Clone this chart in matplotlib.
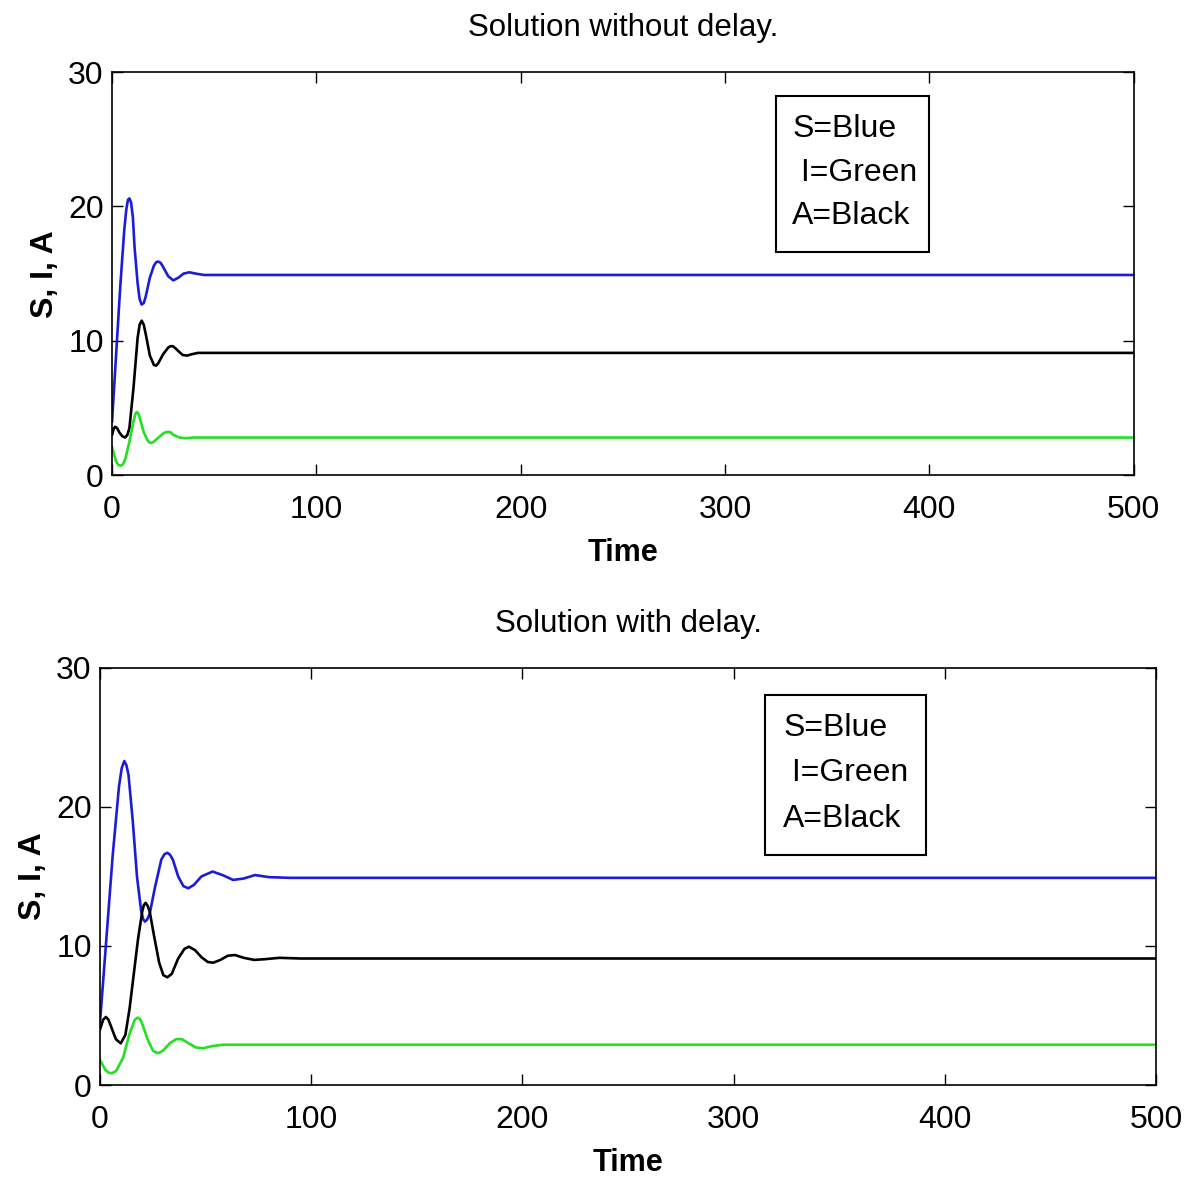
import matplotlib
matplotlib.use("Agg")
import matplotlib.pyplot as plt
from matplotlib.patches import Rectangle

plt.rcParams['font.family'] = ['Liberation Sans', 'DejaVu Sans']

# ---- Solution without delay ----
t1_S = [0, 2, 4, 6, 7, 7.8, 8.5, 9.3, 10.2, 11, 12.5, 13.5, 14.5, 15.5, 16.5, 18.5, 20.5, 21.6, 22.6, 23.8, 25, 27.5, 30, 32.5, 35, 37.8, 41, 45, 50, 500]
S1 = [4.0, 9.0, 14.0, 18.3, 19.8, 20.5, 20.6, 20.3, 19.2, 17.0, 14.3, 13.1, 12.7, 12.8, 13.3, 14.7, 15.6, 15.85, 15.9, 15.8, 15.5, 14.8, 14.5, 14.7, 15.0, 15.1, 15.0, 14.9, 14.9, 14.9]
t1_I = [0, 2, 3.2, 4.2, 5.3, 6.5, 8.5, 10.5, 11.3, 12, 12.8, 13.5, 15.5, 17.5, 18.5, 19.4, 20.5, 22, 25, 26.5, 27.5, 28.5, 30, 33, 36, 40, 500]
I1 = [2.1, 1.0, 0.75, 0.7, 0.8, 1.2, 2.5, 4.0, 4.5, 4.7, 4.6, 4.3, 3.2, 2.55, 2.42, 2.4, 2.5, 2.7, 3.1, 3.2, 3.22, 3.2, 3.0, 2.8, 2.75, 2.8, 2.8]
t1_A = [0, 0.8, 1.5, 2.5, 3.5, 5, 6.4, 7.5, 8.5, 10.5, 12.5, 13.5, 14.5, 15.5, 16.5, 18.5, 20.5, 21.5, 22.5, 25, 27.5, 28.6, 29.7, 31, 32, 34.5, 36.7, 39, 42, 500]
A1 = [3.0, 3.45, 3.6, 3.5, 3.2, 2.9, 2.8, 3.0, 3.5, 6.5, 10.2, 11.2, 11.5, 11.2, 10.5, 8.9, 8.2, 8.15, 8.3, 9.0, 9.5, 9.6, 9.6, 9.45, 9.3, 8.95, 8.9, 9.0, 9.1, 9.1]

# ---- Solution with delay ----
t2_S = [0, 3, 6, 9, 10.3, 11.5, 12.5, 13.5, 15.5, 17.5, 19.5, 20.5, 21.3, 22.3, 23.5, 26, 29, 30.5, 31.9, 33.2, 34.5, 37, 39.5, 41.8, 44.5, 48, 53.3, 58, 63, 68, 73.4, 80, 90, 500]
S2 = [4.5, 10.5, 16.5, 21.5, 22.8, 23.3, 23.0, 22.3, 19.0, 15.0, 12.5, 11.9, 11.75, 11.9, 12.3, 14.2, 16.2, 16.6, 16.7, 16.55, 16.2, 15.0, 14.3, 14.15, 14.4, 15.0, 15.35, 15.1, 14.75, 14.85, 15.1, 14.95, 14.9, 14.9]
t2_I = [0, 2.5, 4, 5.5, 7, 8, 11, 14, 16.5, 17.8, 19, 20, 22.5, 25, 26.3, 27.6, 29, 30, 33, 36, 38.7, 42, 45.5, 48.9, 53, 58, 65, 500]
I2 = [1.8, 1.1, 0.9, 0.85, 0.95, 1.1, 2.0, 3.7, 4.7, 4.85, 4.75, 4.4, 3.3, 2.5, 2.35, 2.3, 2.4, 2.5, 3.0, 3.3, 3.3, 3.0, 2.7, 2.65, 2.8, 2.9, 2.9, 2.9]
t2_A = [0, 1.5, 2.8, 4, 5, 7.5, 9.8, 12, 14, 16, 18, 20, 20.8, 21.6, 22.5, 23.5, 25.5, 28, 30, 31.9, 34, 37, 40, 42.1, 45, 48, 51, 53.6, 57, 60.5, 63.9, 68, 73, 78, 85, 95, 500]
A2 = [4.0, 4.7, 4.9, 4.7, 4.3, 3.3, 3.0, 3.6, 5.5, 8.0, 10.5, 12.5, 12.95, 13.1, 12.9, 12.5, 10.8, 8.8, 7.9, 7.75, 8.0, 9.1, 9.8, 9.95, 9.7, 9.2, 8.85, 8.8, 9.0, 9.3, 9.35, 9.15, 9.0, 9.05, 9.15, 9.1, 9.1]

titles = ["Solution without delay.", "Solution with delay."]
legend_lines = ["S=Blue", " I=Green", "A=Black"]
xticks = [0, 100, 200, 300, 400, 500]
yticks = [0, 10, 20, 30]

BLUE = '#1c1cd8'
GREEN = '#22e022'
BLACK = '#000000'

fig = plt.figure(figsize=(11.92, 11.82), dpi=100)
ax1 = fig.add_axes([0.094, 0.598, 0.857, 0.341])
ax2 = fig.add_axes([0.0839, 0.082, 0.886, 0.353])

data = [
    (ax1, (t1_S, S1), (t1_I, I1), (t1_A, A1)),
    (ax2, (t2_S, S2), (t2_I, I2), (t2_A, A2)),
]

legend_cfg = [
    dict(box=(0.650, 0.553, 0.150, 0.387), tx=0.666, ys=[0.858, 0.750, 0.643]),
    dict(box=(0.630, 0.552, 0.152, 0.383), tx=0.647, ys=[0.856, 0.749, 0.638]),
]

for i, (ax, s, ii, a) in enumerate(data):
    ax.plot(s[0], s[1], color=BLUE, lw=1.9, solid_joinstyle='round')
    ax.plot(a[0], a[1], color=BLACK, lw=1.9, solid_joinstyle='round')
    ax.plot(ii[0], ii[1], color=GREEN, lw=1.9, solid_joinstyle='round')
    ax.set_xlim(0, 500)
    ax.set_ylim(0, 30)
    ax.set_xticks(xticks)
    ax.set_yticks(yticks)
    ax.tick_params(direction='in', length=8, width=1, top=True, right=True,
                   labelsize=23)
    ax.tick_params(axis='x', pad=14)
    ax.tick_params(axis='y', pad=6)
    for sp in ax.spines.values():
        sp.set_linewidth(1.2)
    ax.set_title(titles[i], fontsize=22.5, pad=26)
    ax.set_xlabel("Time", fontsize=22, fontweight='bold', labelpad=10)
    ax.set_ylabel("S, I, A", fontsize=23, fontweight='bold', labelpad=6)
    cfg = legend_cfg[i]
    bx, by, bw, bh = cfg['box']
    ax.add_patch(Rectangle((bx, by), bw, bh, transform=ax.transAxes,
                           fill=True, facecolor='white', edgecolor='black',
                           lw=1.5, zorder=5))
    for txt, yy in zip(legend_lines, cfg['ys']):
        ax.text(cfg['tx'], yy, txt, transform=ax.transAxes, fontsize=23,
                va='center', ha='left', zorder=6)

fig.savefig("out.png", dpi=100)
